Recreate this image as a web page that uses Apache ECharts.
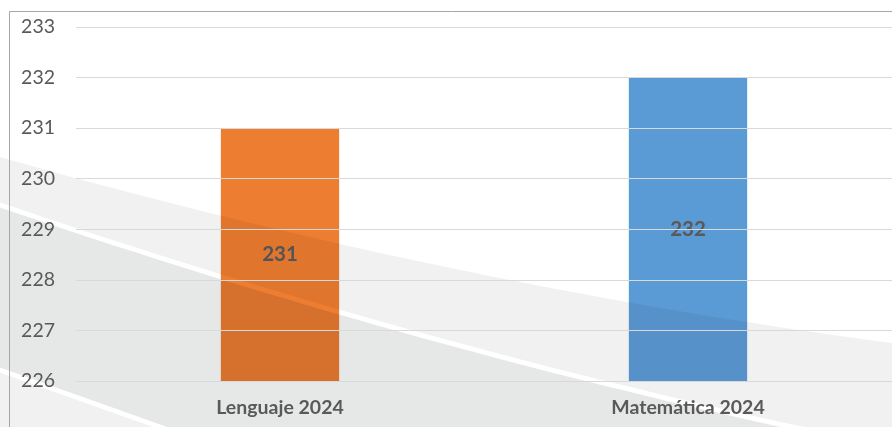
<!DOCTYPE html>
<html>
<head>
<meta charset="utf-8">
<script src="https://cdn.jsdelivr.net/npm/echarts@6/dist/echarts.min.js"></script>
<style>
  html, body { margin: 0; padding: 0; background: #fff; }
  #chart { width: 892px; height: 427px; }
</style>
</head>
<body>
<div id="chart"></div>
<script>
const categories = ['Lenguaje 2024', 'Matemática 2024'];
const scores = [231, 232];
const barColors = ['#ED7D31', '#5B9BD5'];
const yMin = 226;
const yMax = 233;

const chart = echarts.init(document.getElementById('chart'));

// quadratic curve sampled into points, for the background swooshes
function quad(p0, c, p2, n) {
  const pts = [];
  for (let i = 0; i <= n; i++) {
    const t = i / n, u = 1 - t;
    pts.push([u * u * p0[0] + 2 * u * t * c[0] + t * t * p2[0],
              u * u * p0[1] + 2 * u * t * c[1] + t * t * p2[1]]);
  }
  return pts;
}

// decorative grey swooshes drawn over the plot, like the slide background
const topEdge = quad([0, 157], [446, 284], [892, 343], 40);
const lineUp = quad([0, 202.5], [446, 355], [892, 445.5], 40);
const lineDown = quad([0, 207.5], [446, 360], [892, 450.5], 40);

const swooshes = [
  { points: topEdge.concat(lineUp.slice().reverse()), alpha: 0.055 },
  { points: lineDown.concat([[892, 470], [288, 470], [0, 367.5]]), alpha: 0.098 },
  { points: [[0, 372.5], [274, 470], [0, 470]], alpha: 0.055 }
];

const option = {
  animation: false,
  backgroundColor: '#fff',
  textStyle: { fontFamily: 'Lato' },
  grid: { left: 76, right: -2, top: 27, bottom: 46, containLabel: false },
  xAxis: {
    type: 'category',
    data: categories,
    z: 10,
    axisLine: { show: true, lineStyle: { color: '#d9d9d9', width: 1 } },
    axisTick: { show: false },
    axisLabel: { color: '#595959', fontSize: 19.5, fontWeight: 'bold', margin: 17 }
  },
  yAxis: {
    type: 'value',
    min: yMin,
    max: yMax,
    interval: 1,
    z: 10,
    axisLine: { show: false },
    axisTick: { show: false },
    axisLabel: { color: '#595959', fontSize: 19.5, margin: 21 },
    splitLine: { lineStyle: { color: '#d9d9d9', width: 1 } }
  },
  series: [{
    type: 'bar',
    barWidth: '29%',
    data: scores.map((v, i) => ({ value: v, itemStyle: { color: barColors[i] } })),
    label: {
      show: true,
      position: 'inside',
      color: '#595959',
      fontSize: 20.5,
      fontWeight: 'bold'
    }
  }],
  graphic: swooshes.map(s => ({
    type: 'polygon',
    silent: true,
    z: 3,
    shape: { points: s.points },
    style: { fill: 'rgba(0,8,8,' + s.alpha + ')', stroke: null }
  })).concat([{
    type: 'rect',
    silent: true,
    z: 20,
    shape: { x: 9.5, y: 11.5, width: 900, height: 450 },
    style: { fill: null, stroke: '#a6a6a6', lineWidth: 1 }
  }])
};

chart.setOption(option);
</script>
</body>
</html>
